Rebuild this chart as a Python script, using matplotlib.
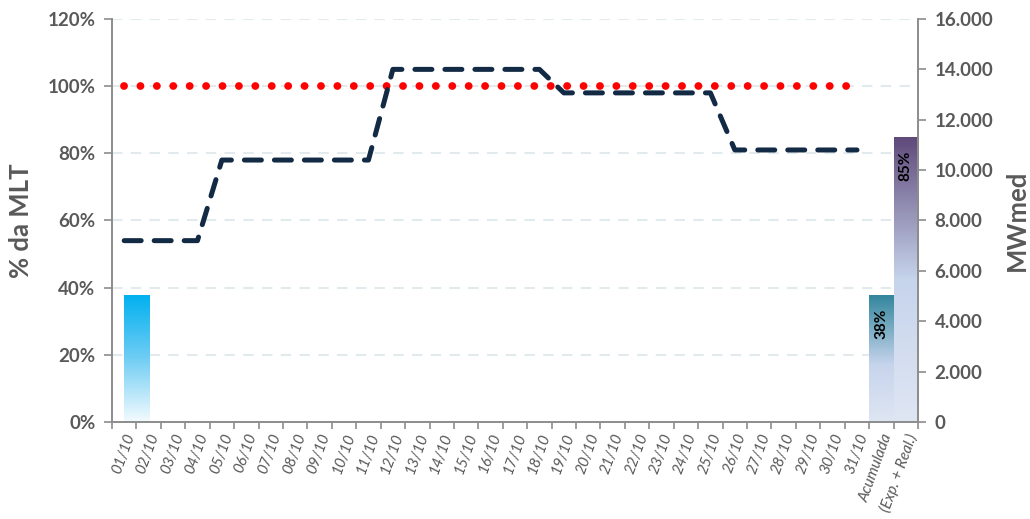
import numpy as np
import matplotlib
matplotlib.use("Agg")
import matplotlib.pyplot as plt
from matplotlib.colors import LinearSegmentedColormap

plt.rcParams['font.family'] = ['Lato', 'DejaVu Sans']

# categories
dias = ["%02d/10" % d for d in range(1, 32)]
categorias = dias + ["Acumulada", "(Exp. + Real.)"]

# % da MLT previsto (linha tracejada) e MLT (linha pontilhada)
previsto = [54, 54, 54, 54, 78, 78, 78, 78, 78, 78, 78,
            105, 105, 105, 105, 105, 105, 105,
            98, 98, 98, 98, 98, 98, 98,
            81, 81, 81, 81, 81, 81]
mlt = [100] * 31

# barras em MWmed
barra_dia = [5050]           # verificado 01/10
barras_acum = [5050, 11330]  # Acumulada, (Exp. + Real.)
rotulos_acum = ["38%", "85%"]

cinza = "#595959"

fig = plt.figure(figsize=(10.30, 5.19), dpi=100)
ax = fig.add_axes([0.1087, 0.1869, 0.7826, 0.7765])
ax2 = ax.twinx()

x = np.arange(len(categorias))
xd = np.arange(len(dias))

# gridlines (nos ticks do eixo esquerdo, atras das barras)
for v in range(20, 121, 20):
    ax2.axhline(v / 120 * 16000, color="#e3eaee", lw=1.5, ls=(0, (5, 4)), zorder=0)

ax.plot(xd, mlt, color="#ff0000", lw=5.6, ls=(0, (0.01, 2.1)),
        dash_capstyle="round", zorder=3)
ax.plot(xd, previsto, color="#132a45", lw=3.6, ls=(0, (3.4, 2.6)),
        dash_capstyle="round", solid_joinstyle="round", zorder=4)


def gradiente(axis, patch, cores):
    cmap = LinearSegmentedColormap.from_list("g", cores)
    bb = patch.get_bbox()
    grad = np.linspace(0, 1, 256).reshape(-1, 1)
    im = axis.imshow(grad, cmap=cmap, aspect="auto", origin="lower",
                     extent=[bb.x0, bb.x1, bb.y0, bb.y1], zorder=2)
    im.set_clip_path(patch)
    patch.set_alpha(0)


b0 = ax2.bar([0.5], barra_dia, width=1.05, color="none", zorder=2)
gradiente(ax2, b0[0], ["#f4fbfe", "#6fcdf4", "#00b0f0"])

b1 = ax2.bar(x[-2:], barras_acum, width=1.0, color="none", zorder=2)
gradiente(ax2, b1[0], [(0, "#dfe6f3"), (0.45, "#c6d4ec"), (1, "#31859c")])
gradiente(ax2, b1[1], [(0, "#dfe6f3"), (0.5, "#c6d4ec"), (1, "#5f497a")])

for bar, txt in zip(b1, rotulos_acum):
    ax2.text(bar.get_x() + bar.get_width() / 2, bar.get_height() - 550, txt,
             rotation=90, ha="center", va="top", fontsize=11,
             fontweight="bold", color="black", zorder=5)

ax.set_xlim(-0.5, len(categorias) - 0.5)
ax.set_ylim(0, 120)
ax2.set_ylim(0, 16000)

ax.set_yticks(range(0, 121, 20))
ax.set_yticklabels(["%d%%" % v for v in range(0, 121, 20)])
ax2.set_yticks(range(0, 16001, 2000))
ax2.set_yticklabels(["0" if v == 0 else f"{v:,}".replace(",", ".")
                     for v in range(0, 16001, 2000)])

ax.set_xticks(x)
ax.set_xticklabels(categorias, rotation=70, ha="right", va="top",
                   rotation_mode="anchor", fontsize=11, style="italic",
                   color=cinza)
ax.set_xticks(np.arange(-0.5, len(categorias), 1), minor=True)
ax.tick_params(axis="x", which="major", length=0, pad=7)
ax.tick_params(axis="x", which="minor", length=5, color="#8c8c8c", width=1.2)

for a in (ax, ax2):
    for s in a.spines.values():
        s.set_color("#8c8c8c")
        s.set_linewidth(1.2)
    a.spines["top"].set_visible(False)
    a.tick_params(axis="y", length=6, color="#8c8c8c", width=1.2,
                  labelsize=13.5, labelcolor=cinza, pad=6)
    for lab in a.get_yticklabels():
        lab.set_fontweight("bold")

ax.set_zorder(ax2.get_zorder() + 1)
ax.patch.set_visible(False)

ax.set_ylabel("% da MLT", fontsize=18.5, fontweight="bold", color=cinza, labelpad=10)
ax2.set_ylabel("MWmed", fontsize=18.5, fontweight="bold", color=cinza, labelpad=8)

fig.savefig("out.png", dpi=100)
